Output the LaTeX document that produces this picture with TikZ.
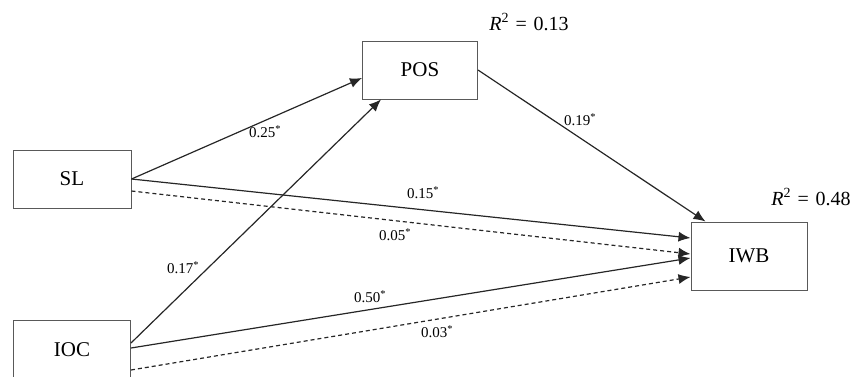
\documentclass[tikz,border=0pt]{standalone}
\usepackage{fontspec}
\setmainfont{Liberation Serif}
\usetikzlibrary{arrows.meta}

\tikzset{
	varbox/.style={draw=black!65, line width=1pt, fill=white, inner sep=0pt,
		font=\fontsize{21}{24}\selectfont},
	path/.style={draw=black!85, line width=1.2pt, -{Latex[length=12pt,width=10pt]}},
	dpath/.style={path, dash pattern=on 4pt off 3pt},
	coef/.style={inner sep=0pt, font=\fontsize{15}{18}\selectfont},
	rsq/.style={inner sep=0pt, font=\fontsize{20}{23}\selectfont}
}

\begin{document}
\begin{tikzpicture}[x=1pt,y=-1pt]
	\clip (0,0) rectangle (854,376);
	\useasboundingbox (0,0) rectangle (854,376);
	
	% construct boxes
	\foreach \name/\x/\y/\w/\h in {SL/72/179/118/58, IOC/72/350/117/59, POS/420/70/115/58, IWB/749/256/116/68} {
		\node[varbox, minimum width=\w pt, minimum height=\h pt] (\name) at (\x,\y) {\name};
	}
	
	% explained variance
	\node[rsq] (r2pos) at (529,22) {\textit{R}\textsuperscript{2}\,\,=\,\,0.13};
	\node[rsq] (r2iwb) at (811,197) {\textit{R}\textsuperscript{2}\,\,=\,\,0.48};
	
	% paths to POS
	\draw[path] (SL.east) -- ([yshift=-8pt]POS.west);
	\draw[path] ([yshift=7pt]IOC.east) -- ([xshift=19pt]POS.south west);
	% paths to IWB
	\draw[path] (POS.east) -- ([xshift=15pt]IWB.north west);
	\draw[path] (SL.east) -- ([yshift=18pt]IWB.west);
	\draw[dpath] ([yshift=-12pt]SL.east) -- ([yshift=2pt]IWB.west);
	\draw[path] ([yshift=2pt]IOC.east) -- ([yshift=-2pt]IWB.west);
	\draw[dpath] ([yshift=-20pt]IOC.east) -- ([yshift=-21pt]IWB.west);
	
	% path coefficients
	\foreach \name/\x/\y/\val in {c1/265/132/0.25, c2/580/120/0.19, c3/423/193/0.15, c4/395/235/0.05, c5/183/268/0.17, c6/370/297/0.50, c7/437/332/0.03} {
		\node[coef] (\name) at (\x,\y) {\val\textsuperscript{*}};
	}
	
\end{tikzpicture}
\end{document}
